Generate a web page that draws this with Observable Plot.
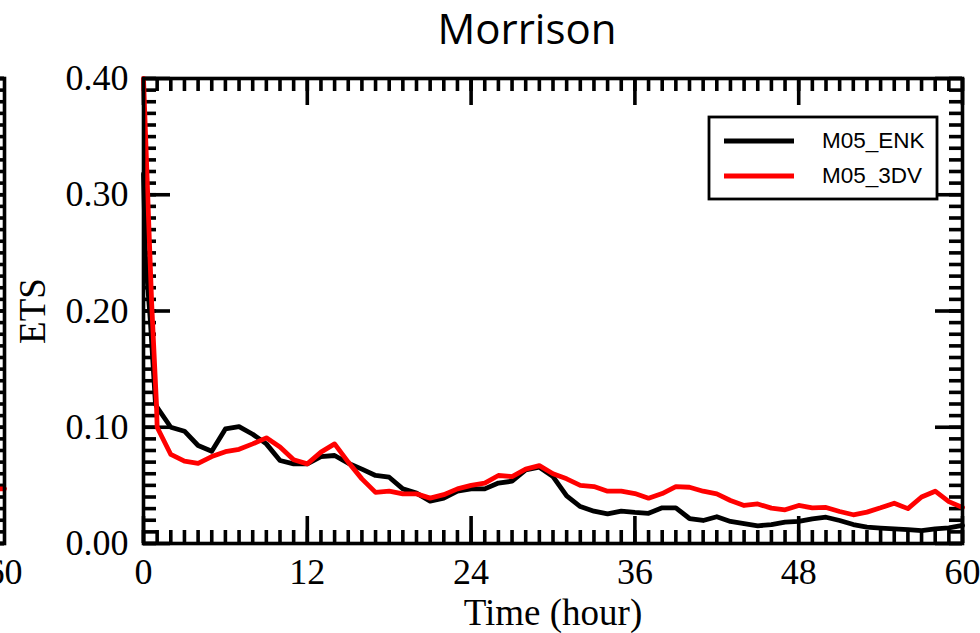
<!DOCTYPE html>
<html><head><meta charset="utf-8">
<script src="https://cdn.jsdelivr.net/npm/d3@7"></script>
<script src="https://cdn.jsdelivr.net/npm/@observablehq/plot@0.6"></script>
<style>
html,body{margin:0;padding:0;background:#fff;overflow:hidden}
#wrap{position:relative;width:980px;height:633px;overflow:hidden;background:#fff}
#wrap > *{position:absolute;top:0}
</style></head><body><div id="wrap"></div>
<script>
const title = "Morrison";
const xLabel = "Time (hour)";
const yLabel = "ETS";
const seriesNames = ["M05_ENK", "M05_3DV"];
const seriesColors = ["#000000", "#ff0000"];

const enkHours = [0, 0.15, 0.5, 0.88, 1, 2, 3, 4, 5, 6, 7, 8, 9, 10, 11, 12, 13, 14, 15, 16, 17, 18, 19, 20,
  21, 22, 23, 24, 25, 26, 27, 28, 29, 30, 31, 32, 33, 34, 35, 36, 37, 38, 39, 40,
  41, 42, 43, 44, 45, 46, 47, 48, 49, 50, 51, 52, 53, 54, 55, 56, 57, 58, 59, 60];
const enkETS = [0.318, 0.246, 0.192, 0.120, 0.117, 0.100, 0.0966, 0.0843, 0.0794, 0.0986, 0.1006, 0.094, 0.0857, 0.0714, 0.0685, 0.0685, 0.0748, 0.0757, 0.069, 0.064, 0.0585, 0.057, 0.047, 0.0433,
  0.0364, 0.039, 0.045, 0.047, 0.047, 0.052, 0.0536, 0.0634, 0.0656, 0.0576, 0.041, 0.0318, 0.0278, 0.0255, 0.0278, 0.0267, 0.026, 0.0307, 0.0307, 0.0215,
  0.0198, 0.023, 0.019, 0.017, 0.0152, 0.0163, 0.0183, 0.019, 0.0212, 0.0226, 0.0198, 0.0163, 0.014, 0.0132, 0.0126, 0.012, 0.011, 0.0126, 0.0135, 0.0155];

const tdvHours = [0, 0.6, 0.95, 1, 2, 3, 4, 5, 6, 7, 8, 9, 10, 11, 12, 13, 14, 15, 16, 17, 18, 19, 20,
  21, 22, 23, 24, 25, 26, 27, 28, 29, 30, 31, 32, 33, 34, 35, 36, 37, 38, 39, 40,
  41, 42, 43, 44, 45, 46, 47, 48, 49, 50, 51, 52, 53, 54, 55, 56, 57, 58, 59, 60];
const tdvETS = [0.400, 0.206, 0.120, 0.100, 0.0766, 0.0708, 0.069, 0.0748, 0.079, 0.081, 0.0857, 0.0909, 0.083, 0.072, 0.0685, 0.0786, 0.0857, 0.070, 0.0556, 0.044, 0.045, 0.0427, 0.0427,
  0.039, 0.042, 0.047, 0.050, 0.052, 0.0585, 0.0576, 0.064, 0.067, 0.060, 0.0556, 0.050, 0.049, 0.045, 0.045, 0.043, 0.039, 0.043, 0.049, 0.0484,
  0.045, 0.0427, 0.037, 0.0327, 0.034, 0.0304, 0.029, 0.0327, 0.0307, 0.031, 0.0275, 0.0247, 0.027, 0.0307, 0.0347, 0.030, 0.040, 0.045, 0.036, 0.031];

// right edge of the neighbouring (cropped) panel on the left
const prevHours = [59, 60];
const prevTdvETS = [0.047, 0.047];

const xTickLabels = [0, 12, 24, 36, 48, 60];
const yTickLabels = [0, 0.1, 0.2, 0.3, 0.4];
const xMinorTicks = d3.range(0, 61);
const yMinorTicks = d3.range(0, 41).map(i => i / 100);

const W = 980, H = 633, mL = 143, mR = 18, mT = 78, mB = 90;
const innerW = W - mL - mR, innerH = H - mT - mB;
const serif = "Liberation Serif, Times New Roman, serif";

function rows(name, hs, vs) { return hs.map((t, i) => ({series: name, t, v: vs[i]})); }

function tickMarks(showX) {
  const m = [];
  const s = {stroke: "black", strokeWidth: 3.6};
  if (showX) {
    m.push(Plot.tickX(xMinorTicks, {x: d => d, insetTop: innerH - 13, ...s}));
    m.push(Plot.tickX(xMinorTicks, {x: d => d, insetBottom: innerH - 13, ...s}));
    m.push(Plot.tickX(xTickLabels, {x: d => d, insetTop: innerH - 27, ...s}));
    m.push(Plot.tickX(xTickLabels, {x: d => d, insetBottom: innerH - 27, ...s}));
  }
  m.push(Plot.tickY(yMinorTicks, {y: d => d, insetRight: innerW - 13, ...s}));
  m.push(Plot.tickY(yMinorTicks, {y: d => d, insetLeft: innerW - 13, ...s}));
  m.push(Plot.tickY(yTickLabels, {y: d => d, insetRight: innerW - 27, ...s}));
  m.push(Plot.tickY(yTickLabels, {y: d => d, insetLeft: innerW - 27, ...s}));
  return m;
}

const baseOpts = {
  width: W, height: H,
  marginLeft: mL, marginRight: mR, marginTop: mT, marginBottom: mB,
  style: {background: "transparent", color: "black", overflow: "visible"},
  x: {domain: [0, 60]},
  color: {domain: seriesNames, range: seriesColors}
};

const data = [...rows(seriesNames[0], enkHours, enkETS), ...rows(seriesNames[1], tdvHours, tdvETS)];

const main = Plot.plot({
  ...baseOpts,
  y: {domain: [0, 0.4]},
  marks: [
    ...tickMarks(true),
    Plot.line(data, {x: "t", y: "v", z: "series", stroke: "series", strokeWidth: 4.8, strokeLinejoin: "round"}),
    Plot.frame({stroke: "black", strokeWidth: 3.6}),
    Plot.axisX(xTickLabels, {tickSize: 0, tickPadding: 15, fontSize: 36, fontFamily: serif, label: null, tickFormat: d => String(d)}),
    Plot.axisY(yTickLabels, {tickSize: 0, tickPadding: 15, fontSize: 36, fontFamily: serif, label: null, tickFormat: d3.format(".2f")}),
    Plot.text([xLabel], {text: d => d, frameAnchor: "bottom", lineAnchor: "middle", textAnchor: "middle", dy: 70, fontSize: 37, fontFamily: serif, fill: "black"}),
    Plot.text([yLabel], {text: d => d, frameAnchor: "left", lineAnchor: "middle", textAnchor: "middle", dx: -110, rotate: -90, fontSize: 37, fontFamily: serif, fill: "black"}),
    Plot.text([title], {text: d => d, frameAnchor: "top", lineAnchor: "middle", textAnchor: "middle", dx: -26, dy: -48, fontSize: 42, fontFamily: "Open Sans", fill: "black"})
  ]
});

const prev = Plot.plot({
  ...baseOpts,
  y: {domain: [0, 0.4], axis: null},
  marks: [
    ...tickMarks(false),
    Plot.line(rows(seriesNames[1], prevHours, prevTdvETS), {x: "t", y: "v", z: "series", stroke: "series", strokeWidth: 4.8}),
    Plot.frame({stroke: "black", strokeWidth: 3.6}),
    Plot.axisX([60], {tickSize: 0, tickPadding: 15, fontSize: 36, fontFamily: serif, label: null, tickFormat: d => String(d)})
  ]
});

const wrap = document.getElementById("wrap");
prev.style.left = (4 - (W - mR)) + "px";
main.style.left = "0px";
wrap.appendChild(prev);
wrap.appendChild(main);

// legend
const lg = d3.create("svg").attr("width", 232).attr("height", 86)
  .style("left", "707px").style("top", "115px").style("position", "absolute");
lg.append("rect").attr("x", 2).attr("y", 2).attr("width", 228).attr("height", 82)
  .attr("fill", "white").attr("stroke", "black").attr("stroke-width", 2.8);
seriesNames.forEach((name, i) => {
  const yy = 26 + i * 35;
  lg.append("line").attr("x1", 17).attr("x2", 87).attr("y1", yy).attr("y2", yy)
    .attr("stroke", seriesColors[i]).attr("stroke-width", 5);
  lg.append("text").attr("x", 115).attr("y", yy + 6.5).text(name)
    .attr("font-family", "Liberation Sans, Arial, sans-serif").attr("font-size", 22.5).attr("fill", "black");
});
wrap.appendChild(lg.node());
</script>
</body></html>
